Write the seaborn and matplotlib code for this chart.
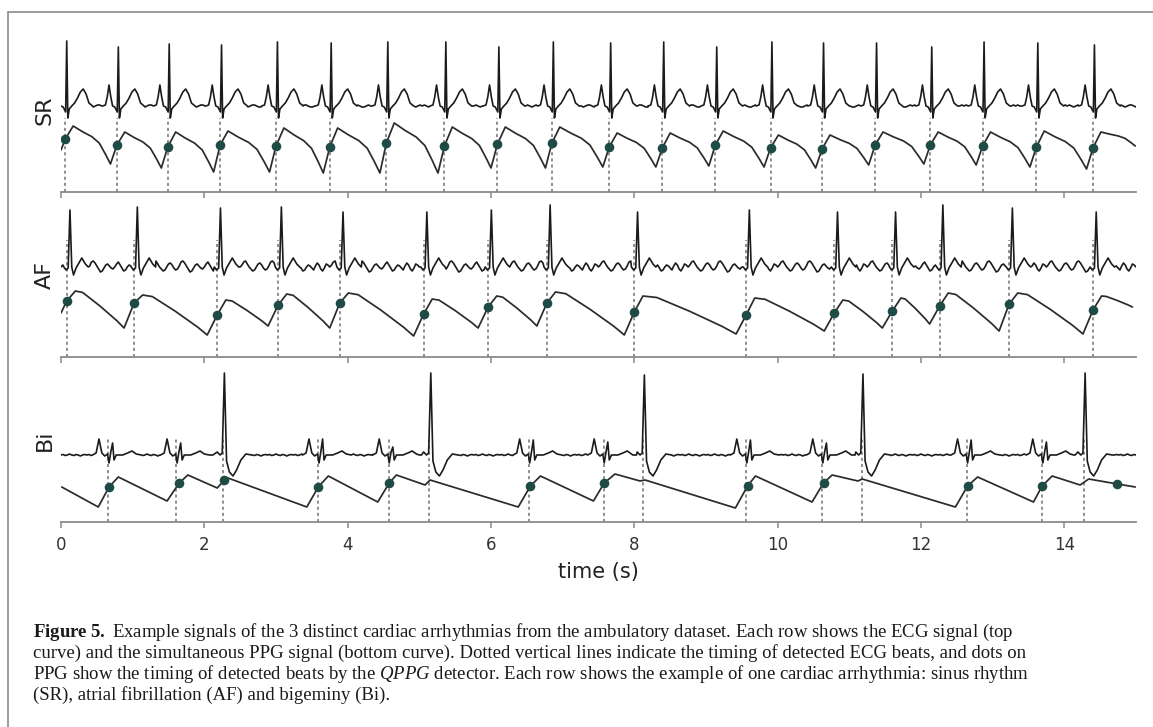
import matplotlib
matplotlib.use("Agg")
import matplotlib.pyplot as plt
from matplotlib.lines import Line2D
import seaborn as sns
import numpy as np
import pandas as pd

sns.set_style("white")
plt.rcParams["font.family"] = ["DejaVu Sans"]
plt.rcParams["mathtext.fontset"] = "custom"
plt.rcParams["mathtext.rm"] = "Liberation Serif"
plt.rcParams["mathtext.bf"] = "Liberation Serif:bold"
plt.rcParams["mathtext.it"] = "Liberation Serif:italic"

rows = ["SR", "AF", "Bi"]
xticks = [0, 2, 4, 6, 8, 10, 12, 14]

# ---- sinus rhythm: detected beats (s) and heights (px above the row's axis) ----
sr_beats = [0.06, 0.78, 1.49, 2.22, 3.00, 3.75, 4.54, 5.35, 6.09, 6.85,
            7.65, 8.39, 9.13, 9.90, 10.62, 11.36, 12.13, 12.86, 13.61, 14.40]
sr_r_top = [151, 145, 148, 147, 150, 149, 150, 150, 145, 150,
            149, 150, 145, 150, 149, 149, 145, 150, 149, 147]
sr_dot_y = [53, 47, 45, 47, 46, 45, 49, 46, 48, 49,
            45, 44, 47, 44, 43, 47, 47, 46, 45, 44]
sr_peak_y = [66, 60, 60, 61, 64, 64, 69, 65, 65, 65,
             59, 59, 61, 57, 57, 60, 60, 60, 61, 60]
sr_trough_y = [28, 24, 20, 20, 19, 19, 19, 24, 24, 25,
               25, 26, 25, 24, 27, 28, 27, 25, 23]

# ---- atrial fibrillation ----
af_beats = [0.08, 1.02, 2.18, 3.03, 3.89, 5.06, 5.96, 6.78, 8.00, 9.56,
            10.79, 11.60, 12.26, 13.23, 14.40]
af_r_top = [147, 150, 149, 150, 145, 145, 147, 152, 145, 147,
            145, 145, 152, 149, 145]
af_dot_y = [56, 54, 42, 52, 54, 43, 50, 54, 45, 42, 44, 46, 51, 53, 47]
af_peak_y = [66, 62, 57, 63, 64, 58, 61, 65, 61, 59, 57, 59, 64, 64, 61]
af_trough_y = [29, 22, 31, 29, 21, 29, 31, 22, 23, 26, 29, 33, 26, 23]

# ---- bigeminy ----
bi_beats = [0.66, 1.61, 2.26, 3.59, 4.57, 5.14, 6.53, 7.57, 8.12, 9.56,
            10.62, 11.17, 12.64, 13.69, 14.27]
bi_ectopic = [False, False, True, False, False, True, False, False, True, False,
              False, True, False, False, True]
bi_r_top = [79, 79, 149, 83, 75, 149, 82, 80, 147, 82, 79, 148, 82, 80, 149]
bi_dot_t = [0.67, 1.65, 2.28, 3.59, 4.58, 6.55, 7.58, 9.58, 10.64, 12.65, 13.69, 14.74]
bi_dot_y = [35, 39, 42, 35, 39, 36, 39, 36, 39, 36, 36, 38]
bi_ppg_t = [0.01, 0.52, 0.67, 0.80, 1.48, 1.65, 1.77, 2.18, 2.28, 2.33, 3.43, 3.59,
            3.73, 4.42, 4.58, 4.68, 5.08, 5.15, 6.38, 6.55, 6.69, 7.43, 7.58, 7.73,
            8.08, 8.15, 9.41, 9.58, 9.69, 10.48, 10.64, 10.76, 11.12, 11.18, 12.48,
            12.65, 12.79, 13.57, 13.69, 13.83, 14.22, 14.34, 14.74, 14.99]
bi_ppg_y = [35, 15, 35, 45, 21, 39, 47, 34, 42, 44, 15, 35,
            46, 20, 39, 47, 37, 42, 15, 36, 46, 21, 39, 48,
            41, 42, 14, 36, 46, 20, 39, 47, 41, 43, 15,
            36, 45, 20, 36, 46, 37, 43, 38, 35]

# beat shapes: offset (s) from the detected beat, level (px) above baseline; None = R top
sr_shape_t = [-0.20, -0.16, -0.135, -0.11, -0.085, -0.06, -0.03, 0.005, 0.02, 0.035,
              0.055, 0.09, 0.13, 0.17, 0.21, 0.25, 0.29, 0.33, 0.38]
sr_shape_y = [0, 1, 9, 21, 9, 0, -1, -6, None, -12, -3, 0, 3, 8, 14, 17, 12, 3, 0]
af_shape_t = [-0.04, -0.01, 0.02, 0.045, 0.07, 0.095, 0.13, 0.17, 0.21, 0.26, 0.30]
af_shape_y = [0, -3, -1, None, 0, -8, -1, 4, 9, 3, 0]
bi_shape_t = [-0.22, -0.17, -0.13, -0.09, -0.05, -0.01, 0.01, 0.035, 0.06, 0.08,
              0.11, 0.20, 0.27, 0.33, 0.39, 0.46]
bi_shape_y = [0, 2, 16, 2, -1, 1, -8, 3, None, -5, 0, 0, 2, 4, 1, 0]
bi_pvc_t = [-0.14, -0.08, -0.04, -0.01, 0.02, 0.05, 0.09, 0.14, 0.19, 0.25, 0.32, 0.40]
bi_pvc_y = [0, 3, 0, 2, None, -6, -17, -21, -15, -5, 1, 0]

# baseline wiggle (px)
sr_wiggle = [0, 1, 0, -1, 0, 1, 1, 0, -1, -1, 0, 1]
af_wiggle = [0, 2, 5, 6, 3, 0, -2, -4, -3, 0, 3, 4, 2, -1, -3, -2, 1, 5, 6, 4,
             1, -2, -5, -4, -1, 2, 3, 1, -1, -2, 0, 3, 5, 2, -1, -4, -3, 0, 2, 1,
             -1, -3, 1, 4, 2, -2, -4, -1, 3, 2]
bi_wiggle = [0, 0.5, -0.5, 0, 1, 0, -0.5, 0.5, 0, -1, 0, 0.5]


def ecg_trace(beats, r_top, base, shapes, kinds, wiggle, step):
    pts, windows = [], []
    for b, top, k in zip(beats, r_top, kinds):
        st, sy = shapes[k]
        windows.append((b + st[0], b + st[-1]))
        for o, v in zip(st, sy):
            pts.append((b + o, top if v is None else base + v))
    for i, g in enumerate(np.arange(0, 15.001, step)):
        if not any(lo <= g <= hi for lo, hi in windows):
            pts.append((g, base + wiggle[i % len(wiggle)]))
    pts = sorted(p for p in pts if 0 <= p[0] <= 15)
    return pd.DataFrame(pts, columns=["t", "y"])


def ppg_trace(dot_t, dot_y, peak_y, trough_y, rise, fall, dec_f, dec_l, start, end):
    pts = [start]
    for i, (t, y) in enumerate(zip(dot_t, dot_y)):
        pts.append((t, y))
        tp, yp = t + rise, peak_y[i]
        pts.append((tp, yp))
        if i + 1 < len(dot_t):
            tt, yt = dot_t[i + 1] - fall, trough_y[i]
        else:
            tt, yt = end
        for f, l in zip(dec_f, dec_l):
            pts.append((tp + f * (tt - tp), yp + l * (yt - yp)))
        pts.append((tt, yt))
    return pd.DataFrame(pts, columns=["t", "y"])


ecg = [
    ecg_trace(sr_beats, sr_r_top, 86, {0: (sr_shape_t, sr_shape_y)},
              [0] * len(sr_beats), sr_wiggle, 0.03),
    ecg_trace(af_beats, af_r_top, 90, {0: (af_shape_t, af_shape_y)},
              [0] * len(af_beats), af_wiggle, 0.025),
    ecg_trace(bi_beats, bi_r_top, 67, {0: (bi_shape_t, bi_shape_y), 1: (bi_pvc_t, bi_pvc_y)},
              [int(e) for e in bi_ectopic], bi_wiggle, 0.03),
]
ppg = [
    ppg_trace(sr_beats, sr_dot_y, sr_peak_y, sr_trough_y, 0.11, 0.09,
              [0.25, 0.5, 0.7, 0.87], [0.15, 0.28, 0.45, 0.75], (0.0, 42), (14.99, 46)),
    ppg_trace(af_beats, af_dot_y, af_peak_y, af_trough_y, 0.12, 0.14,
              [0.15, 0.5, 0.85], [0.04, 0.4, 0.8], (0.0, 44), (14.95, 50)),
    pd.DataFrame({"t": bi_ppg_t, "y": bi_ppg_y}),
]
beats = [sr_beats, af_beats, bi_beats]
dots = [(sr_beats, sr_dot_y), (af_beats, af_dot_y), (bi_dot_t, bi_dot_y)]
vline_top = [74, 117, 84]

W, H = 1153, 727
fig = plt.figure(figsize=(W / 100, H / 100), dpi=100)
bottoms = [192, 357, 522]
for r, lab in enumerate(rows):
    ax = fig.add_axes([61 / W, 1 - bottoms[r] / H, 1075 / W, 157 / H])
    ax.vlines(beats[r], 0, vline_top[r], colors="#707070", linestyles=(0, (2, 2)),
              linewidth=1.1, zorder=1)
    sns.lineplot(data=ecg[r], x="t", y="y", ax=ax, color="#1b1b1b", linewidth=1.2,
                 sort=False, estimator=None, zorder=2)
    sns.lineplot(data=ppg[r], x="t", y="y", ax=ax, color="#2b2b2b", linewidth=1.25,
                 sort=False, estimator=None, zorder=2)
    sns.scatterplot(x=dots[r][0], y=dots[r][1], ax=ax, color="#1f4b47", s=48,
                    edgecolor="#1f4b47", linewidth=0, zorder=3)
    ax.set_xlim(0, 15)
    ax.set_ylim(0, 157)
    sns.despine(ax=ax, left=True)
    ax.spines["bottom"].set_color("#8a8a8a")
    ax.spines["bottom"].set_linewidth(1.3)
    ax.set_yticks([])
    ax.set_xticks(xticks)
    ax.tick_params(axis="x", direction="out", length=4.5, width=1.1, color="#8a8a8a",
                   pad=5.5, labelsize=12, labelcolor="#333333", bottom=True)
    ax.set_xlabel("")
    ax.set_ylabel("")
    ax.text(-16 / 1075, 0.52, lab, transform=ax.transAxes, rotation=90, ha="center",
            va="center", fontsize=16, color="#222222")
    if r < 2:
        ax.tick_params(labelbottom=False)
    else:
        ax.set_xlabel("time (s)", fontsize=15, color="#222222", labelpad=6)

# frame around the figure panel
fig.add_artist(Line2D([8 / W, 8 / W], [0, 1 - 12 / H], color="#8c8c8c", linewidth=1.2))
fig.add_artist(Line2D([8 / W, 1], [1 - 12 / H, 1 - 12 / H], color="#8c8c8c", linewidth=1.2))

caption = [
    r"$\mathbf{Figure\ 5.}$ Example signals of the 3 distinct cardiac arrhythmias from the ambulatory dataset. Each row shows the ECG signal (top",
    "curve) and the simultaneous PPG signal (bottom curve). Dotted vertical lines indicate the timing of detected ECG beats, and dots on",
    r"PPG show the timing of detected beats by the $\mathit{QPPG}$ detector. Each row shows the example of one cardiac arrhythmia: sinus rhythm",
    "(SR), atrial fibrillation (AF) and bigeminy (Bi).",
]
for i, line in enumerate(caption):
    fig.text(33 / W, 1 - (637 + 21 * i) / H, line, family="Liberation Serif",
             fontsize=13.5, color="#1a1a1a", va="baseline", ha="left")

fig.savefig("out.png", dpi=100)
